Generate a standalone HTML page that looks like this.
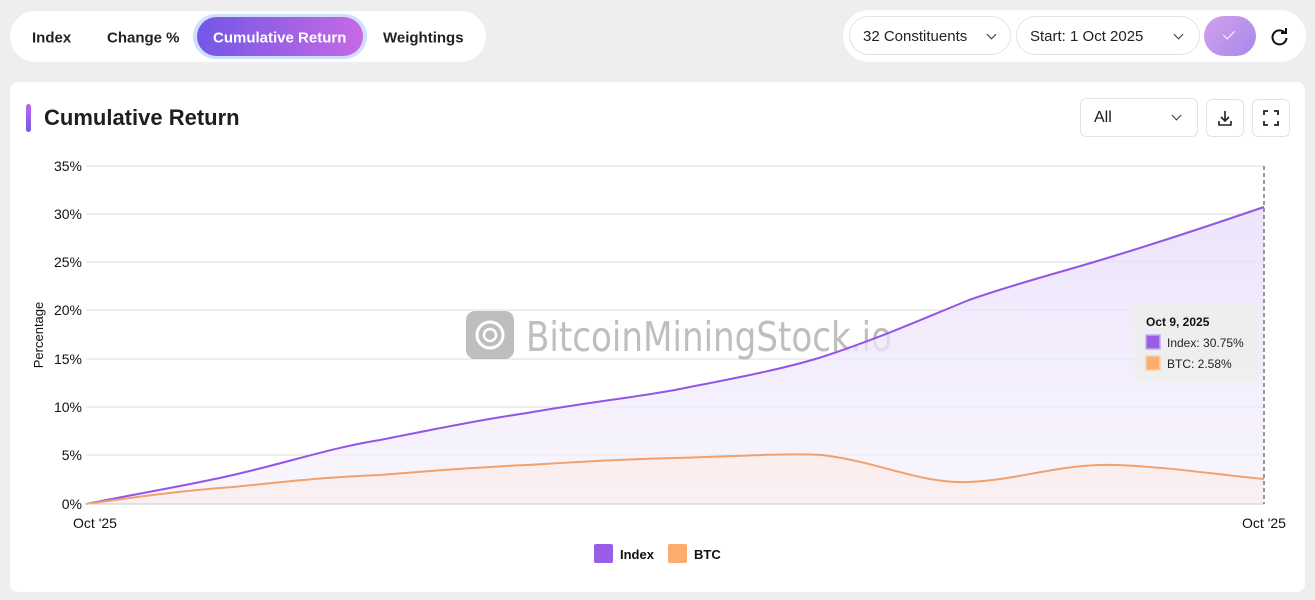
<!DOCTYPE html>
<html><head><meta charset="utf-8"><style>
*{box-sizing:border-box;margin:0;padding:0}
body{width:1315px;height:600px;background:#eeeeee;font-family:"Liberation Sans",sans-serif;position:relative;overflow:hidden;color:#1a1a1a}
.pill{position:absolute;background:#fff;border-radius:26px}
.tab{position:absolute;top:38px;transform:translateY(-50%);font-size:15px;font-weight:bold;color:#222}
.sel{position:absolute;background:#fff;border:1px solid #e3e3e3;border-radius:20px;font-size:15px;color:#222;padding-left:13px;line-height:39px}
.chev{position:absolute;width:7px;height:7px;border-right:1.5px solid #333;border-bottom:1.5px solid #333;transform:rotate(45deg)}
.card{position:absolute;left:10px;top:82px;width:1295px;height:510px;background:#fff;border-radius:8px}
.btn{position:absolute;border:1px solid #e3e3e3;border-radius:6px;background:#fff}
</style></head><body>
<div class="pill" style="left:10px;top:11px;width:476px;height:51px"></div>
<div class="tab" style="left:32px">Index</div>
<div class="tab" style="left:107px">Change %</div>
<div style="position:absolute;left:193px;top:14px;width:174px;height:45px;border-radius:23px;background:#cfe0fb"></div>
<div style="position:absolute;left:197px;top:17px;width:166px;height:39px;border-radius:20px;background:linear-gradient(90deg,#7357e6,#c66ae4)"></div>
<div class="tab" style="left:213px;color:#fff">Cumulative Return</div>
<div class="tab" style="left:383px">Weightings</div>

<div class="pill" style="left:843px;top:10px;width:463px;height:52px"></div>
<div class="sel" style="left:849px;top:16px;width:162px;height:39px">32 Constituents<div class="chev" style="left:138px;top:14px"></div></div>
<div class="sel" style="left:1016px;top:16px;width:184px;height:39px">Start: 1 Oct 2025<div class="chev" style="left:158px;top:14px"></div></div>
<div style="position:absolute;left:1204px;top:16px;width:52px;height:40px;border-radius:20px;background:linear-gradient(135deg,#d4a0ec,#a58ae9)"></div>
<div style="position:absolute;left:1226px;top:28px;width:6px;height:11px;border-right:1.5px solid #fff;border-bottom:1.5px solid #fff;transform:rotate(45deg)"></div>
<svg style="position:absolute;left:1270px;top:27px" width="20" height="20" viewBox="0 0 20 20"><path d="M15 6 A7 7 0 1 0 16.5 11" fill="none" stroke="#111" stroke-width="2"/><path d="M11 6 L16 6 L16 1" fill="none" stroke="#111" stroke-width="2"/></svg>

<div class="card"></div>
<div style="position:absolute;left:26px;top:104px;width:5px;height:28px;border-radius:3px;background:linear-gradient(#b66be6,#7a57e6)"></div>
<div style="position:absolute;left:44px;top:105px;font-size:22px;font-weight:bold;color:#1e1e1e">Cumulative Return</div>
<div class="btn" style="left:1080px;top:98px;width:118px;height:39px;font-size:16px;line-height:37px;padding-left:13px">All<div class="chev" style="left:92px;top:13px"></div></div>
<div class="btn" style="left:1206px;top:99px;width:38px;height:38px"><svg width="36" height="36"><path d="M18 11 V21 M14 17 L18 21 L22 17 M12 21 V25 H24 V21" fill="none" stroke="#222" stroke-width="1.6"/></svg></div>
<div class="btn" style="left:1252px;top:99px;width:38px;height:38px"><svg width="36" height="36"><path d="M11 15 V11 H15 M21 11 H25 V15 M25 21 V25 H21 M15 25 H11 V21" fill="none" stroke="#222" stroke-width="1.8"/></svg></div>

<svg style="position:absolute;left:0;top:0" width="1315" height="600">
<defs>
<linearGradient id="gi" x1="0" y1="0" x2="0" y2="1"><stop offset="0" stop-color="#e6dcfa"/><stop offset="1" stop-color="#f7f3fd"/></linearGradient>
<linearGradient id="gb" x1="0" y1="0" x2="0" y2="1"><stop offset="0" stop-color="#fbeae6" stop-opacity=".7"/><stop offset="1" stop-color="#fbeeee" stop-opacity=".7"/></linearGradient>
</defs>
<g stroke="#dcdcdc" stroke-width="1">
<line x1="86" x2="1264" y1="166" y2="166"/><line x1="86" x2="1264" y1="214" y2="214"/><line x1="86" x2="1264" y1="262" y2="262"/><line x1="86" x2="1264" y1="310" y2="310"/><line x1="86" x2="1264" y1="359" y2="359"/><line x1="86" x2="1264" y1="407" y2="407"/><line x1="86" x2="1264" y1="455" y2="455"/>
</g>
<g font-size="14" fill="#111" text-anchor="end" font-family="Liberation Sans, sans-serif">
<text x="82" y="171">35%</text><text x="82" y="219">30%</text><text x="82" y="267">25%</text><text x="82" y="315">20%</text><text x="82" y="364">15%</text><text x="82" y="412">10%</text><text x="82" y="460">5%</text><text x="82" y="509">0%</text>
</g>
<text transform="translate(43,335) rotate(-90)" font-size="13" fill="#111" text-anchor="middle">Percentage</text>
<g opacity="0.55">
<rect x="466" y="311" width="48" height="48" rx="9" fill="#8a8a8a"/>
<circle cx="490" cy="335" r="13" fill="none" stroke="#fff" stroke-width="3"/>
<circle cx="490" cy="335" r="6" fill="none" stroke="#fff" stroke-width="2.5"/>
<text x="526" y="351" font-size="41" fill="#8a8a8a" font-family="DejaVu Sans, sans-serif" textLength="366" lengthAdjust="spacingAndGlyphs">BitcoinMiningStock.io</text>
</g>
<path d="M86,504 C130,495 190,485 233,475 C290,462 330,448 380,440 C440,428 480,420 527,413 C590,402 630,398 675,390 C730,379 780,370 822,357 C880,338 920,320 969,300 C1020,282 1070,270 1117,255 C1170,239 1220,222 1264,207 L1264,504 Z" fill="url(#gi)" opacity=".75"/>
<path d="M86,504 C150,495 190,490 233,487 C300,480 330,477 380,475 C440,470 480,467 527,465 C590,461 630,459 675,458 C740,456 790,453 822,455 C880,462 920,484 969,482 C1020,480 1060,463 1117,465 C1170,467 1220,475 1264,479 L1264,504 Z" fill="url(#gb)"/>
<path d="M86,504 C130,495 190,485 233,475 C290,462 330,448 380,440 C440,428 480,420 527,413 C590,402 630,398 675,390 C730,379 780,370 822,357 C880,338 920,320 969,300 C1020,282 1070,270 1117,255 C1170,239 1220,222 1264,207" fill="none" stroke="#9455e6" stroke-width="2"/>
<path d="M86,504 C150,495 190,490 233,487 C300,480 330,477 380,475 C440,470 480,467 527,465 C590,461 630,459 675,458 C740,456 790,453 822,455 C880,462 920,484 969,482 C1020,480 1060,463 1117,465 C1170,467 1220,475 1264,479" fill="none" stroke="#f4a06a" stroke-width="2"/>
<line x1="86" x2="1264" y1="504" y2="504" stroke="#c8c8c8"/>
<line x1="1264" x2="1264" y1="166" y2="504" stroke="#777" stroke-width="1.5" stroke-dasharray="4,3"/>
<text x="95" y="528" font-size="14" fill="#111" text-anchor="middle">Oct '25</text>
<text x="1264" y="528" font-size="14" fill="#111" text-anchor="middle">Oct '25</text>
<rect x="1134" y="303" width="124" height="79" rx="4" fill="#eeeeee" opacity=".95"/>
<text x="1146" y="326" font-size="12" font-weight="bold" fill="#111">Oct 9, 2025</text>
<rect x="1146" y="335" width="14" height="14" fill="#9a5ee6" stroke="#c6a8f4" stroke-width="1.5"/>
<text x="1167" y="347" font-size="12" fill="#222">Index: 30.75%</text>
<rect x="1146" y="356" width="14" height="14" fill="#fbad6e" stroke="#fcd0a8" stroke-width="1.5"/>
<text x="1167" y="368" font-size="12" fill="#222">BTC: 2.58%</text>
<rect x="594" y="544" width="19" height="19" rx="2" fill="#9a5ee6"/>
<text x="620" y="559" font-size="13" font-weight="bold" fill="#111">Index</text>
<rect x="668" y="544" width="19" height="19" rx="2" fill="#fbad6e"/>
<text x="694" y="559" font-size="13" font-weight="bold" fill="#111">BTC</text>
</svg>
</body></html>
